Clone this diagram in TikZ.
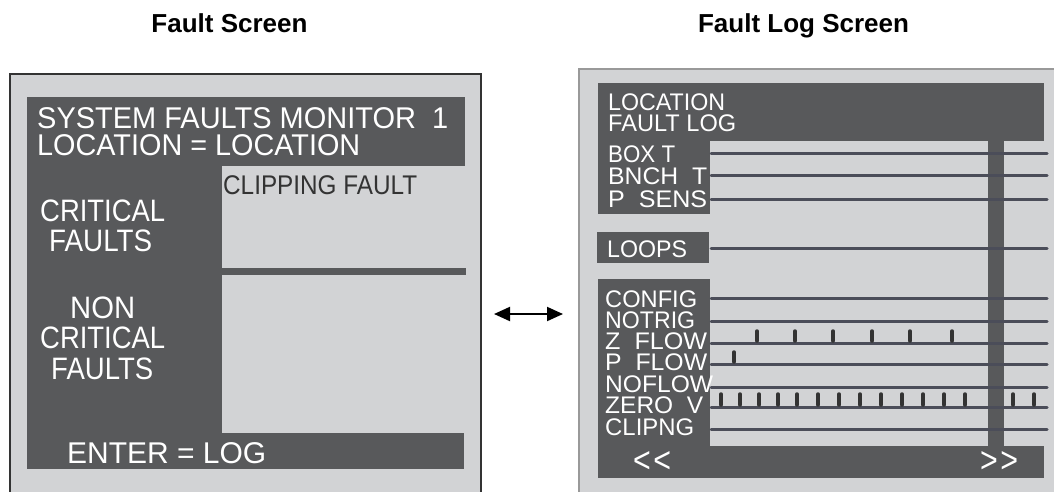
\documentclass[tikz,border=0pt]{standalone}
\usepackage{fontspec}
\setmainfont{Liberation Sans}
\usetikzlibrary{arrows.meta}
\definecolor{lg}{HTML}{D2D3D5}
\definecolor{dg}{HTML}{58595B}
\definecolor{ln}{HTML}{4B4D59}
\definecolor{tk}{HTML}{333333}
\newcommand\fs[1]{\fontsize{#1}{#1}\selectfont}
\newcommand\fitw[2]{\resizebox{#1pt}{\height}{#2}}
\begin{document}
\begin{tikzpicture}[x=1pt,y=-1pt,
 lbl/.style={anchor=base west,inner sep=0,text=white},
 trace/.style={draw=ln,line width=3pt,line cap=round},
 tick/.style={draw=tk,line width=3.5pt,line cap=round},
 ttl/.style={inner sep=0,anchor=base,font=\bfseries\fs{26}}]
\useasboundingbox (0,0) rectangle (1054,491);
\clip (0,0) rectangle (1054,491);
\fill[white] (0,0) rectangle (1054,491);
% titles
\node[ttl] (t1) at (229.5,32) {Fault Screen};
\node[ttl] (t2) at (803.5,32) {Fault Log Screen};
% ---------- left screen ----------
\draw[fill=lg,draw=black!80,line width=1.3pt] (10,74) rectangle (481,520);
\fill[dg] (27,97) rectangle (465,166);
\fill[dg] (27,166) rectangle (222,433);
\fill[dg] (27,433) rectangle (464,469);
\fill[dg] (222,268) rectangle (466,275);
\node[lbl] (l1) at (37,128) {\fs{30}\fitw{411}{SYSTEM FAULTS MONITOR\ \ 1}};
\node[lbl] (l2) at (37,155) {\fs{30}\fitw{323}{LOCATION = LOCATION}};
\node[lbl,text=tk] (l3) at (223,194) {\fs{27}\fitw{194}{CLIPPING FAULT}};
\node[lbl] (l4) at (40,221) {\fs{31}\fitw{125}{CRITICAL}};
\node[lbl] (l5) at (49,251) {\fs{31}\fitw{103}{FAULTS}};
\node[lbl] (l6) at (70,318) {\fs{31}\fitw{65}{NON}};
\node[lbl] (l7) at (40,348) {\fs{31}\fitw{125}{CRITICAL}};
\node[lbl] (l8) at (51,379) {\fs{31}\fitw{102}{FAULTS}};
\node[lbl] (l9) at (67,463) {\fs{30}\fitw{199}{ENTER = LOG}};
% ---------- arrow ----------
\coordinate (al) at (494,314);
\coordinate (ar) at (563,314);
\draw[line width=2pt,{Triangle[length=16pt,width=14pt]}-{Triangle[length=16pt,width=14pt]}] (al) -- (ar);
% ---------- right screen ----------
\draw[fill=lg,draw=gray!80,line width=1.5pt] (579,69) rectangle (1070,520);
\fill[dg] (598,83) rectangle (1044,141);
\fill[dg] (598,141) rectangle (710,214);
\fill[dg] (988,141) rectangle (1004,446);
\fill[dg] (597,232) rectangle (709,263);
\fill[dg] (598,279) rectangle (710,446);
\fill[dg] (598,446) rectangle (1044,478);
\foreach \y in {153,175,199,248,298,321,343,364,387,407,429}
  \draw[trace] (711,\y) -- (1047,\y);
\foreach \x in {757,795,833,872,910,952}
  \draw[tick] (\x,331) -- (\x,341);
\draw[tick] (734,352) -- (734,362);
\foreach \x in {721,740,759,778,797,818,839,860,881,902,923,944,965,1013,1034}
  \draw[tick] (\x,394) -- (\x,405);
\node[lbl] (r1) at (608,110) {\fs{24}\fitw{117}{LOCATION}};
\node[lbl] (r2) at (608,131) {\fs{24}\fitw{128}{FAULT LOG}};
\node[lbl] (r3) at (608,162) {\fs{24}\fitw{67}{BOX T}};
\node[lbl] (r4) at (608,184) {\fs{24}\fitw{99}{BNCH\ \ T}};
\node[lbl] (r5) at (608,207) {\fs{24}\fitw{99}{P\ \ SENS}};
\node[lbl] (r6) at (607,257) {\fs{24}\fitw{80}{LOOPS}};
\node[lbl] (r7) at (605,307) {\fs{24}\fitw{92}{CONFIG}};
\node[lbl] (r8) at (605,328) {\fs{24}\fitw{90}{NOTRIG}};
\node[lbl] (r9) at (605,349) {\fs{24}\fitw{102}{Z\ \ FLOW}};
\node[lbl] (r10) at (605,370) {\fs{24}\fitw{102}{P\ \ FLOW}};
\node[lbl] (r11) at (605,392) {\fs{24}\fitw{108}{NOFLOW}};
\node[lbl] (r12) at (605,413) {\fs{24}\fitw{98}{ZERO\ \ V}};
\node[lbl] (r13) at (605,435) {\fs{24}\fitw{89}{CLIPNG}};
\node[lbl] (r14) at (633,472) {\fs{36}\fitw{38}{<\kern3pt<}};
\node[lbl] (r15) at (980,472) {\fs{36}\fitw{38}{>\kern3pt>}};
\end{tikzpicture}
\end{document}
